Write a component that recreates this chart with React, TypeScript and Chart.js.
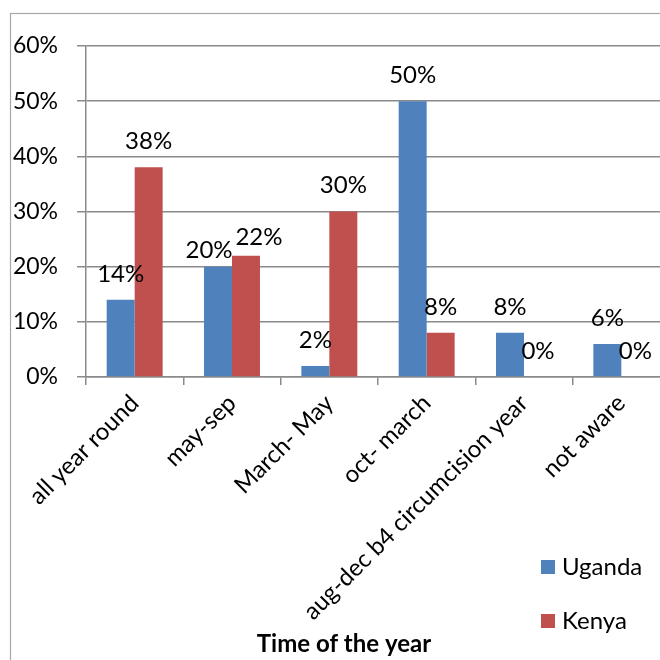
import React, { useEffect, useRef } from "react";
import { Chart, registerables } from "chart.js";

Chart.register(...registerables);

const categories = [
  "all year round",
  "may-sep",
  "March- May",
  "oct- march",
  "aug-dec b4 circumcision year",
  "not aware",
];
const ugandaValues = [14, 20, 2, 50, 8, 6];
const kenyaValues = [38, 22, 30, 8, 0, 0];
const seriesNames = ["Uganda", "Kenya"];
const seriesColors = ["#4F81BD", "#C0504D"];
const yMin = 0;
const yMax = 60;
const yStep = 10;
const xTitle = "Time of the year";

const FONT = "Lato, 'Open Sans', sans-serif";

// small nudges for overlapping labels in the "may-sep" group (dataset, index) -> [dx, dy]
const labelNudges: Record<string, [number, number]> = {
  "0-1": [-9, 10],
  "1-1": [13, 8],
};

const W = 700;
const H = 660;

const framePlugin = {
  id: "frame",
  beforeDraw(chart: any) {
    const ctx = chart.ctx;
    ctx.save();
    ctx.fillStyle = "#ffffff";
    ctx.fillRect(0, 0, chart.width, chart.height);
    ctx.strokeStyle = "#a8a8a8";
    ctx.lineWidth = 1.2;
    ctx.strokeRect(10.5, 13.5, 668, 700);
    ctx.restore();
  },
};

const labelsPlugin = {
  id: "valueLabels",
  afterDatasetsDraw(chart: any) {
    const ctx = chart.ctx;
    ctx.save();
    ctx.font = `24px ${FONT}`;
    ctx.fillStyle = "#000";
    ctx.textAlign = "center";
    ctx.textBaseline = "middle";
    chart.data.datasets.forEach((ds: any, i: number) => {
      const meta = chart.getDatasetMeta(i);
      meta.data.forEach((bar: any, j: number) => {
        const n = labelNudges[`${i}-${j}`] || [0, 0];
        ctx.fillText(`${ds.data[j]}%`, bar.x + n[0], bar.y - 26 + n[1]);
      });
    });
    ctx.restore();
  },
};

const legendTitlePlugin = {
  id: "legendTitle",
  afterDraw(chart: any) {
    const ctx = chart.ctx;
    ctx.save();
    ctx.font = `24px ${FONT}`;
    ctx.textAlign = "left";
    ctx.textBaseline = "middle";
    const ys = [567, 621];
    chart.data.datasets.forEach((ds: any, i: number) => {
      ctx.fillStyle = ds.backgroundColor;
      ctx.fillRect(541, ys[i] - 7, 14, 14);
      ctx.fillStyle = "#000";
      ctx.fillText(ds.label, 562, ys[i]);
    });
    ctx.font = `bold 24px ${FONT}`;
    ctx.textAlign = "center";
    ctx.fillText(xTitle, 344, 644);
    ctx.restore();
  },
};

export default function App() {
  const ref = useRef<HTMLCanvasElement>(null);
  useEffect(() => {
    if (!ref.current) return;
    const chart = new Chart(ref.current, {
      type: "bar",
      data: {
        labels: categories,
        datasets: [
          {
            label: seriesNames[0],
            data: ugandaValues,
            backgroundColor: seriesColors[0],
            categoryPercentage: 0.575,
            barPercentage: 1,
          },
          {
            label: seriesNames[1],
            data: kenyaValues,
            backgroundColor: seriesColors[1],
            categoryPercentage: 0.575,
            barPercentage: 1,
          },
        ],
      },
      options: {
        responsive: false,
        animation: false,
        devicePixelRatio: 1,
        layout: { padding: { left: 0, top: 46, right: 30, bottom: 0 } },
        plugins: {
          legend: { display: false },
          tooltip: { enabled: false },
        },
        scales: {
          x: {
            grid: {
              offset: true,
              drawOnChartArea: false,
              drawTicks: true,
              tickLength: 8,
              color: "#8a8a8a",
              lineWidth: 1.5,
            },
            border: { color: "#8a8a8a", width: 1.5 },
            ticks: {
              autoSkip: false,
              maxRotation: 45,
              minRotation: 45,
              padding: 4,
              color: "#000",
              font: { family: FONT, size: 24 },
            },
            afterFit(scale: any) {
              scale.height = 283;
            },
          },
          y: {
            min: yMin,
            max: yMax,
            ticks: {
              stepSize: yStep,
              padding: 19,
              color: "#000",
              font: { family: FONT, size: 23 },
              callback: (v: any) => `${v}%`,
            },
            grid: {
              color: "#8a8a8a",
              lineWidth: 1.5,
              tickLength: 9,
            },
            border: { color: "#8a8a8a", width: 1.5 },
            afterFit(scale: any) {
              scale.width = 86;
            },
          },
        },
      },
      plugins: [framePlugin, labelsPlugin, legendTitlePlugin],
    });
    return () => chart.destroy();
  }, []);
  return (
    <div
      style={{
        position: "fixed",
        left: 0,
        top: 0,
        width: 660,
        height: 660,
        overflow: "hidden",
        background: "#fff",
      }}
    >
      <canvas ref={ref} width={W} height={H} style={{ display: "block" }} />
    </div>
  );
}
